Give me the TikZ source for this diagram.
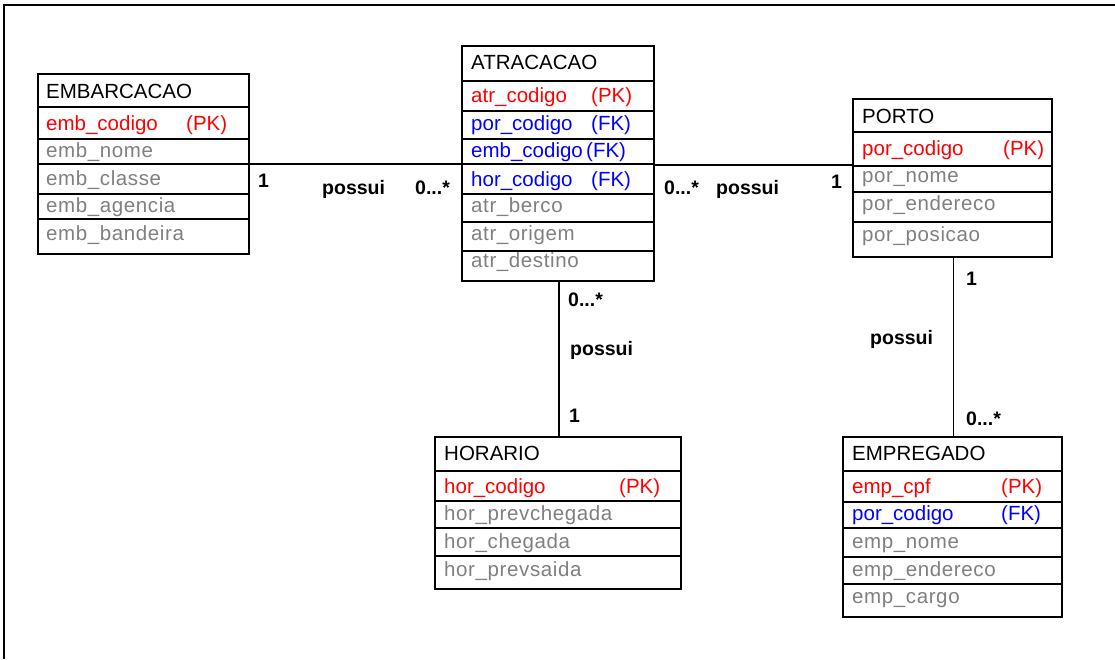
\documentclass[tikz,border=0pt]{standalone}
\usepackage{fontspec}
\setmainfont{Liberation Sans}
\definecolor{pkred}{RGB}{255,0,0}
\definecolor{fkblue}{RGB}{0,0,255}
\definecolor{attgray}{RGB}{128,128,128}
\begin{document}
\begin{tikzpicture}[x=1pt,y=-1pt,
  ent/.style={draw, line width=1.5pt, anchor=north west, inner sep=0pt, outer sep=0pt},
  txt/.style={anchor=base west, inner sep=0pt, font=\fontsize{20.5}{24}\selectfont},
  head/.style={txt, text=black},
  pk/.style={txt, text=pkred},
  fk/.style={txt, text=fkblue},
  att/.style={txt, text=attgray, font=\fontsize{20.5}{24}\selectfont\addfontfeature{LetterSpace=3}},
  lbl/.style={anchor=base west, inner sep=0pt, font=\fontsize{19.5}{24}\selectfont\bfseries},
  rowline/.style={line width=1.5pt},
  conn/.style={line width=1.5pt}]
\useasboundingbox (0,0) rectangle (1115,659);
\fill[white] (0,0) rectangle (1115,659);
% frame
\draw[line width=2pt] (4,659) -- (4,5) -- (1115,5);

% ---------------- EMBARCACAO
\node[ent, minimum width=211pt, minimum height=180pt] (emb) at (38,74) {};
\foreach \yy in {107,139,164,194,219} \draw[rowline] (emb.west |- 0,\yy) -- (emb.east |- 0,\yy);
\node[head] (embh) at (46,98) {EMBARCACAO};
\node[pk] (emb1) at (46,130) {emb\_codigo};
\node[pk] (emb1k) at (186,130) {(PK)};
\node[att] (emb2) at (46,157.5) {emb\_nome};
\node[att] (emb3) at (46,185) {emb\_classe};
\node[att] (emb4) at (46,212.5) {emb\_agencia};
\node[att] (emb5) at (46,240) {emb\_bandeira};

% ---------------- ATRACACAO
\node[ent, minimum width=192pt, minimum height=235pt] (atr) at (462,46) {};
\foreach \yy in {81,111,139,164,194,222,251} \draw[rowline] (atr.west |- 0,\yy) -- (atr.east |- 0,\yy);
\node[head] (atrh) at (471,69.5) {ATRACACAO};
\node[pk] (atr1) at (471,102) {atr\_codigo};
\node[pk] (atr1k) at (591,102) {(PK)};
\node[fk] (atr2) at (471,130) {por\_codigo};
\node[fk] (atr2k) at (591,130) {(FK)};
\node[fk] (atr3) at (471,157.5) {emb\_codigo};
\node[fk] (atr3k) at (586,157.5) {(FK)};
\node[fk] (atr4) at (471,186) {hor\_codigo};
\node[fk] (atr4k) at (591,186) {(FK)};
\node[att] (atr5) at (471,212.5) {atr\_berco};
\node[att] (atr6) at (471,240) {atr\_origem};
\node[att] (atr7) at (471,267.5) {atr\_destino};

% ---------------- PORTO
\node[ent, minimum width=199pt, minimum height=158pt] (por) at (853,99) {};
\foreach \yy in {132,166,192,222} \draw[rowline] (por.west |- 0,\yy) -- (por.east |- 0,\yy);
\node[head] (porh) at (862,123.5) {PORTO};
\node[pk] (por1) at (862,155) {por\_codigo};
\node[pk] (por1k) at (1003,155) {(PK)};
\node[att] (por2) at (862,182.5) {por\_nome};
\node[att] (por3) at (862,210.5) {por\_endereco};
\node[att] (por4) at (862,241.5) {por\_posicao};

% ---------------- HORARIO
\node[ent, minimum width=246pt, minimum height=152pt] (hor) at (435,437) {};
\foreach \yy in {471,501,528,556} \draw[rowline] (hor.west |- 0,\yy) -- (hor.east |- 0,\yy);
\node[head] (horh) at (444,460.5) {HORARIO};
\node[pk] (hor1) at (444,493) {hor\_codigo};
\node[pk] (hor1k) at (619,493) {(PK)};
\node[att] (hor2) at (444,520) {hor\_prevchegada};
\node[att] (hor3) at (444,548) {hor\_chegada};
\node[att] (hor4) at (444,576) {hor\_prevsaida};

% ---------------- EMPREGADO
\node[ent, minimum width=219pt, minimum height=180pt] (emp) at (843,437) {};
\foreach \yy in {471,502,528,557,584} \draw[rowline] (emp.west |- 0,\yy) -- (emp.east |- 0,\yy);
\node[head] (emph) at (852,460.5) {EMPREGADO};
\node[pk] (emp1) at (852,493) {emp\_cpf};
\node[pk] (emp1k) at (1001,493) {(PK)};
\node[fk] (emp2) at (852,520.5) {por\_codigo};
\node[fk] (emp2k) at (1001,520.5) {(FK)};
\node[att] (emp3) at (852,548) {emp\_nome};
\node[att] (emp4) at (852,576) {emp\_endereco};
\node[att] (emp5) at (852,603.5) {emp\_cargo};

% ---------------- connectors
\draw[conn] (emb.east |- 0,164) -- (atr.west |- 0,164);
\draw[conn] (atr.east |- 0,165) -- (por.west |- 0,165);
\draw[conn] (atr.south -| 559,0) -- (hor.north -| 559,0);
\draw[conn] (por.south -| 953.5,0) -- (emp.north -| 953.5,0);

% ---------------- labels
\node[lbl] (l1a) at (258,187) {1};
\node[lbl] (l1b) at (322,194.5) {possui};
\node[lbl] (l1c) at (415,194.5) {0...*};
\node[lbl] (l2a) at (664,194.5) {0...*};
\node[lbl] (l2b) at (716,194) {possui};
\node[lbl] (l2c) at (831,188) {1};
\node[lbl] (l3a) at (568,306.5) {0...*};
\node[lbl] (l3b) at (570,355) {possui};
\node[lbl] (l3c) at (569,422.5) {1};
\node[lbl] (l4a) at (966,285.5) {1};
\node[lbl] (l4b) at (870,344) {possui};
\node[lbl] (l4c) at (966,425.5) {0...*};
\end{tikzpicture}
\end{document}
